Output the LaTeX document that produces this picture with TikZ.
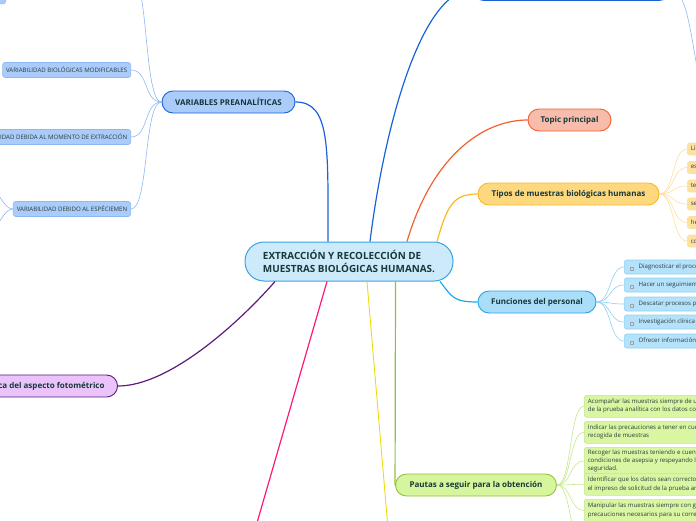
\documentclass[tikz,border=0pt]{standalone}
\usepackage{fontspec}
\setmainfont{Open Sans}
\usepackage{tikz}
\usetikzlibrary{positioning,calc}
\definecolor{mmtext}{HTML}{17383A}
\definecolor{mmleaftext}{HTML}{2C3A3A}
\definecolor{mmcentfill}{HTML}{CDEAFA}
\definecolor{mmcentdraw}{HTML}{3AA2E2}
\definecolor{mmblue}{HTML}{1A63D6}
\definecolor{mmbluefill}{HTML}{A9CCFA}
\definecolor{mmbluelight}{HTML}{8DB8F2}
\definecolor{mmred}{HTML}{F2602E}
\definecolor{mmredfill}{HTML}{F8BCAC}
\definecolor{mmyellow}{HTML}{F9B824}
\definecolor{mmyellowfill}{HTML}{FDD87F}
\definecolor{mmyellowleaf}{HTML}{FDE29F}
\definecolor{mmyellowlight}{HTML}{FDDF9C}
\definecolor{mmsky}{HTML}{22A7E8}
\definecolor{mmskyfill}{HTML}{A9DDF8}
\definecolor{mmskyleaf}{HTML}{B4E2FA}
\definecolor{mmskylight}{HTML}{8DD2F4}
\definecolor{mmgreen}{HTML}{8CC43C}
\definecolor{mmgreenfill}{HTML}{D7F59C}
\definecolor{mmgreenleaf}{HTML}{D9F6A2}
\definecolor{mmgreenlight}{HTML}{C6E68C}
\definecolor{mmpurple}{HTML}{5E1A7C}
\definecolor{mmpurplefill}{HTML}{EAC3FB}
\definecolor{mmpink}{HTML}{FF1876}
\definecolor{mmlemon}{HTML}{EEDC10}
\newcommand{\chkbox}{{\color{mmleaftext!45}\fboxrule=0.3pt\fboxsep=1.4pt\fbox{}}\hspace{5pt}}
\tikzset{
  central/.style={draw=mmcentdraw,fill=mmcentfill,line width=1pt,rounded corners=19pt,
                  minimum width=208pt,minimum height=39pt,inner sep=0pt,align=left,
                  font=\fontsize{9.9}{12.8}\selectfont\bfseries,text=mmtext},
  topic/.style={rounded corners=11pt,minimum height=22pt,inner sep=0pt,line width=0.9pt,
                font=\fontsize{8}{9.5}\selectfont\bfseries,text=mmtext},
  leaf/.style={rounded corners=2.5pt,line width=0.6pt,inner xsep=3.5pt,inner ysep=2.5pt,
               align=left,font=\fontsize{6.1}{8.2}\selectfont,text=mmleaftext},
  mainlink/.style={line width=1.2pt},
  sublink/.style={line width=0.6pt},
}
\begin{document}
\begin{tikzpicture}[x=1pt,y=-1pt]
  \useasboundingbox (0,0) rectangle (696,520);
  \clip (0,0) rectangle (696,520);
  % free ends of connectors that leave the picture
  \coordinate (v0) at (131,-25);
  \coordinate (v3a) at (-10,190);
  \coordinate (v3b) at (-10,228);
  \coordinate (tch) at (712,100);
  \coordinate (pnk) at (252,540);
  \coordinate (lem) at (389,540);
  \coordinate (p6) at (584,548);

  \node[central] (cen) at (349,261.5) {EXTRACCIÓN Y RECOLECCIÓN DE\\MUESTRAS BIOLÓGICAS HUMANAS.};
  \node[topic,draw=mmblue,fill=mmbluefill,minimum width=197pt] (top) at (571.5,-10.5) {};
  \node[topic,draw=mmblue,fill=mmbluefill,minimum width=133pt] (var) at (228.5,102) {VARIABLES PREANALÍTICAS};
  \node[topic,draw=mmred,fill=mmredfill,minimum width=83pt] (tpc) at (569.5,120) {Topic principal};
  \node[topic,draw=mmyellow,fill=mmyellowfill,minimum width=181pt] (tip) at (568.5,194) {Tipos de muestras biológicas humanas};
  \node[topic,draw=mmsky,fill=mmskyfill,minimum width=118pt] (fun) at (537,302) {Funciones del personal};
  \node[topic,draw=mmgreen,fill=mmgreenfill,minimum width=161pt] (pau) at (476,485) {Pautas a seguir para la obtención};
  \node[topic,draw=mmpurple,fill=mmpurplefill,anchor=east,inner xsep=13pt] (pur) at (118,386) {Práctica del aspecto fotométrico};

  \draw[mainlink,mmblue] ([xshift=-21pt]cen.north) .. controls +(0,-95) and +(35,0) .. (var.east);
  \draw[mainlink,mmblue] ([xshift=21pt]cen.north) .. controls +(15,-120) and +(-50,0) .. (top.west);
  \draw[mainlink,mmred] ([xshift=58pt]cen.north) .. controls +(25,-85) and +(-45,0) .. (tpc.west);
  \draw[mainlink,mmyellow] ([xshift=88pt]cen.north) .. controls +(10,-35) and +(-25,0) .. (tip.west);
  \draw[mainlink,mmsky] ([xshift=91pt]cen.south) .. controls +(12,15) and +(-25,0) .. (fun.west);
  \draw[mainlink,mmgreen] ([xshift=46.5pt]cen.south) -- (pau.west);
  \draw[mainlink,mmlemon,line width=0.9pt] ([xshift=18pt]cen.south) -- (lem);
  \draw[mainlink,mmpink] ([xshift=-22pt]cen.south) -- (pnk);
  \draw[mainlink,mmpurple] ([xshift=-74pt]cen.south) .. controls +(-35,40) and +(52,0) .. (pur.east);

  % variables preanaliticas
  \node[leaf,draw=mmbluelight,fill=mmbluefill,anchor=south east,minimum width=40pt,minimum height=14pt] (v00) at (6,4) {};
  \node[leaf,draw=mmbluelight,fill=mmbluefill,anchor=east,minimum height=15pt] (v1) at (131,70) {VARIABILIDAD BIOLÓGICAS MODIFICABLES};
  \node[leaf,draw=mmbluelight,fill=mmbluefill,anchor=east,minimum height=15pt] (v2) at (131,137) {VARIABILIDAD DEBIDA AL MOMENTO DE EXTRACCIÓN};
  \node[leaf,draw=mmbluelight,fill=mmbluefill,anchor=east,minimum height=15pt] (v3) at (131,209) {VARIABILIDAD DEBIDO AL ESPÉCIEMEN};
  \draw[sublink,mmbluelight] (var.west) .. controls +(-18,0) and +(18,0) .. (v0);
  \draw[sublink,mmbluelight] (var.west) .. controls +(-18,0) and +(18,0) .. (v1.east);
  \draw[sublink,mmbluelight] (var.west) .. controls +(-18,0) and +(18,0) .. (v2.east);
  \draw[sublink,mmbluelight] (var.west) .. controls +(-18,0) and +(18,0) .. (v3.east);
  \draw[sublink,mmbluelight] (v3.west) .. controls +(-10,0) and +(10,0) .. (v3a);
  \draw[sublink,mmbluelight] (v3.west) .. controls +(-10,0) and +(10,0) .. (v3b);
  \draw[sublink,mmbluelight] (top.east) .. controls +(25,0) and +(-20,0) .. (tch);

  % tipos de muestras
  \node[leaf,draw=mmyellowlight,fill=mmyellowleaf,anchor=west,minimum height=12pt] (t1) at (687,149) {Líquidos};
  \node[leaf,draw=mmyellowlight,fill=mmyellowleaf,anchor=west,minimum height=12pt] (t2) at (687,167.5) {esputo};
  \node[leaf,draw=mmyellowlight,fill=mmyellowleaf,anchor=west,minimum height=12pt] (t3) at (687,186) {tejidos};
  \node[leaf,draw=mmyellowlight,fill=mmyellowleaf,anchor=west,minimum height=12pt] (t4) at (687,204) {semen};
  \node[leaf,draw=mmyellowlight,fill=mmyellowleaf,anchor=west,minimum height=12pt] (t5) at (687,222.5) {heces};
  \node[leaf,draw=mmyellowlight,fill=mmyellowleaf,anchor=west,minimum height=12pt] (t6) at (687,241) {cordón};
  \foreach \t in {t1,t2,t3,t4,t5,t6}
    \draw[sublink,mmyellowlight] (tip.east) .. controls +(15,0) and +(-15,0) .. (\t.west);

  % funciones del personal
  \node[leaf,draw=mmskylight,fill=mmskyleaf,anchor=west,minimum height=14pt,inner xsep=6pt] (f1) at (624,267) {\chkbox Diagnosticar el proceso};
  \node[leaf,draw=mmskylight,fill=mmskyleaf,anchor=west,minimum height=14pt,inner xsep=6pt] (f2) at (624,285) {\chkbox Hacer un seguimiento};
  \node[leaf,draw=mmskylight,fill=mmskyleaf,anchor=west,minimum height=14pt,inner xsep=6pt] (f3) at (624,304) {\chkbox Descatar procesos patológicos};
  \node[leaf,draw=mmskylight,fill=mmskyleaf,anchor=west,minimum height=14pt,inner xsep=6pt] (f4) at (624,322) {\chkbox Investigación clínica};
  \node[leaf,draw=mmskylight,fill=mmskyleaf,anchor=west,minimum height=14pt,inner xsep=6pt] (f5) at (624,341) {\chkbox Ofrecer información};
  \foreach \f in {f1,f2,f3,f4,f5}
    \draw[sublink,mmskylight] (fun.east) .. controls +(15,0) and +(-15,0) .. (\f.west);

  % pautas a seguir
  \node[leaf,draw=mmgreenlight,fill=mmgreenleaf,anchor=north west,minimum height=22pt] (p1) at (584,395) {Acompañar las muestras siempre de un volante\\de la prueba analítica con los datos correctos};
  \node[leaf,draw=mmgreenlight,fill=mmgreenleaf,anchor=north west,minimum height=22pt] (p2) at (584,421) {Indicar las precauciones a tener en cuenta en la\\recogida de muestras};
  \node[leaf,draw=mmgreenlight,fill=mmgreenleaf,anchor=north west,minimum height=26pt] (p3) at (584,447) {Recoger las muestras teniendo e cuenta las\\condiciones de asepsia y respeyando las normas de\\seguridad.};
  \node[leaf,draw=mmgreenlight,fill=mmgreenleaf,anchor=north west,minimum height=22pt] (p4) at (584,473) {Identificar que los datos sean correctos en\\el impreso de solicitud de la prueba analítica};
  \node[leaf,draw=mmgreenlight,fill=mmgreenleaf,anchor=north west,minimum height=22pt] (p5) at (584,499) {Manipular las muestras siempre con garantías y\\precauciones necesarios para su correcta conservación};
  \foreach \p in {p1,p2,p3,p4,p5}
    \draw[sublink,mmgreenlight] (pau.east) .. controls +(15,0) and +(-15,0) .. (\p.west);
  \draw[sublink,mmgreenlight] (pau.east) .. controls +(15,0) and +(-15,0) .. (p6);
\end{tikzpicture}
\end{document}
